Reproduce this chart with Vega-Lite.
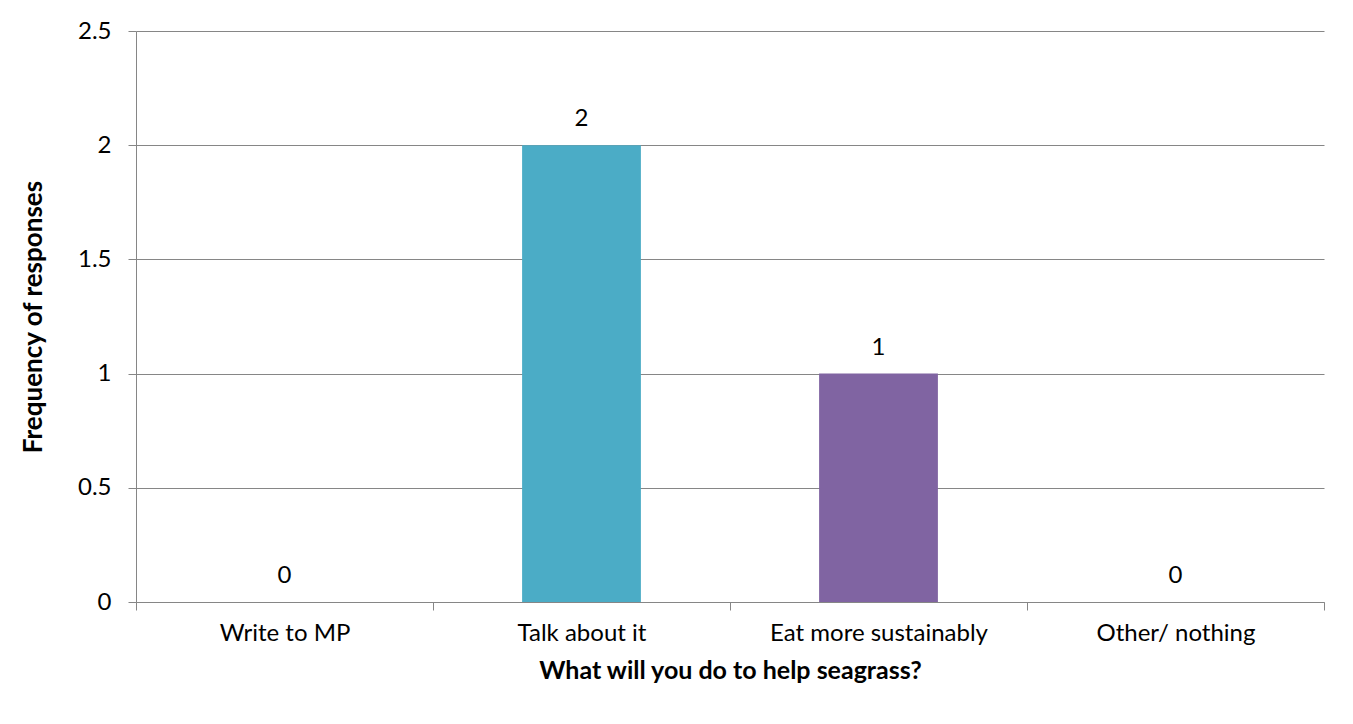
{
  "$schema": "https://vega.github.io/schema/vega-lite/v6.json",
  "autosize": {"type": "none"},
  "padding": {"left": 136, "top": 31, "right": 29, "bottom": 122},
  "width": 1188,
  "height": 571,
  "background": "white",
  "config": {
    "view": {"stroke": null},
    "font": "Lato",
    "axis": {
      "domainColor": "#868686",
      "tickColor": "#868686",
      "gridColor": "#868686",
      "labelColor": "#000000",
      "titleColor": "#000000",
      "labelFont": "Lato",
      "titleFont": "Lato",
      "labelFontSize": 24,
      "titleFontSize": 25,
      "titleFontWeight": "bold",
      "tickSize": 8,
      "labelLimit": 0
    }
  },
  "data": {
    "values": [
      {"action": "Write to MP", "responses": 0},
      {"action": "Talk about it", "responses": 2},
      {"action": "Eat more sustainably", "responses": 1},
      {"action": "Other/ nothing", "responses": 0}
    ]
  },
  "encoding": {
    "x": {
      "field": "action",
      "type": "nominal",
      "sort": null,
      "scale": {"paddingInner": 0, "paddingOuter": 0},
      "axis": {
        "title": "What will you do to help seagrass?",
        "labelAngle": 0,
        "labelPadding": 11,
        "tickBand": "extent",
        "titlePadding": 13,
        "grid": false
      }
    },
    "y": {
      "field": "responses",
      "type": "quantitative",
      "scale": {"domain": [0, 2.5]},
      "axis": {
        "title": "Frequency of responses",
        "values": [0, 0.5, 1, 1.5, 2, 2.5],
        "format": "~g",
        "labelPadding": 17,
        "titlePadding": 31,
        "titleFontSize": 26,
        "grid": true
      }
    }
  },
  "layer": [
    {
      "mark": {"type": "bar", "width": {"band": 0.4}},
      "encoding": {
        "color": {
          "field": "action",
          "type": "nominal",
          "scale": {
            "domain": ["Write to MP", "Talk about it", "Eat more sustainably", "Other/ nothing"],
            "range": ["#4F81BD", "#4BACC6", "#8064A2", "#F79646"]
          },
          "legend": null
        }
      }
    },
    {
      "mark": {"type": "text", "baseline": "bottom", "dy": -14, "fontSize": 24, "color": "#000000", "font": "Lato"},
      "encoding": {
        "text": {"field": "responses", "type": "quantitative"}
      }
    }
  ]
}
